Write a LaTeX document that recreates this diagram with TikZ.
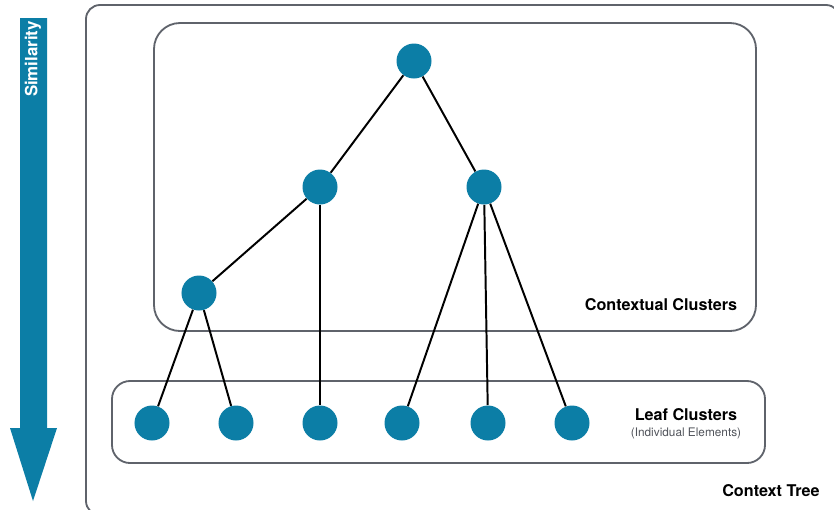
\documentclass[tikz,border=0pt]{standalone}
\usepackage{fontspec}
\setmainfont{TeX Gyre Heros}
\usepackage{tikz}
\usetikzlibrary{positioning}
\definecolor{clusterBlue}{RGB}{12,126,166}
\definecolor{boxGray}{RGB}{95,99,107}
\tikzstyle{clusterNode} = [
    circle,
    fill=clusterBlue,
    inner sep=0pt,
    minimum size=0.875cm
    ]
\tikzstyle{groupBox} = [
    draw=boxGray,
    line width=1.3pt
    ]
\tikzstyle{treeEdge} = [
    draw=black,
    line width=1.4pt
    ]
\tikzstyle{boxLabel} = [
    font=\bfseries\fontsize{11.5}{13}\selectfont,
    inner sep=0pt
    ]

\begin{document}
\begin{tikzpicture}[x=0.025cm, y=-0.025cm]
      \clip (0,0) rectangle (834,509);
      % similarity arrow
      \fill[clusterBlue] (20,18) -- (47,18) -- (47,428) -- (57,428) -- (33,501)
          -- (10,428) -- (20,428) -- cycle;
      \node[rotate=90, text=white, font=\bfseries\fontsize{12}{14}\selectfont,
          inner sep=0pt] (simLabel) at (33,59) {Similarity};
      % boxes
      \draw[groupBox, rounded corners=0.35cm] (86,5) rectangle (840,515);
      \draw[groupBox, rounded corners=0.65cm] (154,23) rectangle (756,331);
      \draw[groupBox, rounded corners=0.45cm] (112,381) rectangle (765,463);
      % tree nodes
      \node[clusterNode] at (414,61) (root) {};
      \node[clusterNode] at (320,187) (midLeft) {};
      \node[clusterNode] at (484,187) (midRight) {};
      \node[clusterNode] at (199,293) (lowLeft) {};
      \node[clusterNode] at (152,423) (leafA) {};
      \node[clusterNode] at (236,423) (leafB) {};
      \node[clusterNode] at (320,423) (leafC) {};
      \node[clusterNode] at (402,423) (leafD) {};
      \node[clusterNode] at (488,423) (leafE) {};
      \node[clusterNode] at (572,423) (leafF) {};
      % edges
      \draw[treeEdge] (root) -- (midLeft);
      \draw[treeEdge] (root) -- (midRight);
      \draw[treeEdge] (midLeft) -- (lowLeft);
      \draw[treeEdge] (midLeft) -- (leafC);
      \draw[treeEdge] (lowLeft) -- (leafA);
      \draw[treeEdge] (lowLeft) -- (leafB);
      \draw[treeEdge] (midRight) -- (leafD);
      \draw[treeEdge] (midRight) -- (leafE);
      \draw[treeEdge] (midRight) -- (leafF);
      % labels
      \node[boxLabel] at (661,305) (contextualLabel) {Contextual Clusters};
      \node[boxLabel] at (686,415) (leafLabel) {Leaf Clusters};
      \node[font=\fontsize{8.4}{10}\selectfont, text=boxGray!85!black, inner sep=0pt]
          at (686,433) (leafSub) {(Individual Elements)};
      \node[boxLabel] at (771,491) (treeLabel) {Context Tree};
    \end{tikzpicture}
\end{document}
